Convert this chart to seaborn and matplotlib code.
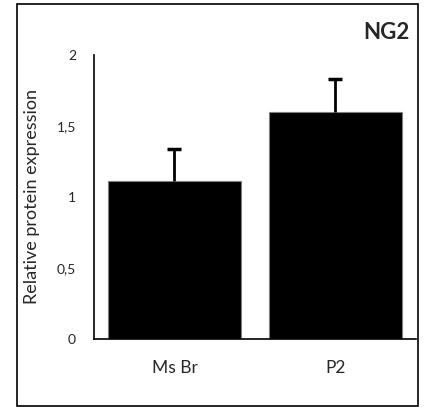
import numpy as np
import pandas as pd
import matplotlib
matplotlib.use("Agg")
import matplotlib.pyplot as plt
from matplotlib.ticker import FuncFormatter
from matplotlib.patches import Rectangle
import seaborn as sns

groups = ["Ms Br", "P2"]
expression = [1.115, 1.595]
sem = [0.22, 0.235]

sns.set_style("white")
plt.rcParams["font.family"] = ["Lato", "DejaVu Sans"]

df = pd.DataFrame({"group": groups, "value": expression})

fig = plt.figure(figsize=(4.24, 4.07), dpi=100)
ax = fig.add_axes([0.2217, 0.167, 0.759, 0.698])

sns.barplot(data=df, x="group", y="value", color="black", width=0.826,
            edgecolor="#7f7f7f", linewidth=0.8, ax=ax, errorbar=None)
for p in ax.patches:
    p.set_facecolor("black")

# upper error only
eb = ax.errorbar(np.arange(len(groups)), expression,
                 yerr=[np.zeros(len(sem)), sem], fmt="none", ecolor="black",
                 elinewidth=2, capsize=5, capthick=2.5, zorder=5)
eb[1][0].set_visible(False)

ax.set_xlim(-0.5, 1.5)
ax.set_ylim(0, 2)
ax.set_yticks([0, 0.5, 1, 1.5, 2])
ax.yaxis.set_major_formatter(FuncFormatter(lambda v, _: f"{v:g}".replace(".", ",")))
ax.tick_params(axis="y", length=0, pad=13, labelsize=10)
ax.tick_params(axis="x", length=0, pad=15, labelsize=12.5)

for s in ["top", "right"]:
    ax.spines[s].set_visible(False)
for s in ["left", "bottom"]:
    ax.spines[s].set_color("black")
    ax.spines[s].set_linewidth(1.2)

ax.set_xlabel("")
ax.set_ylabel("Relative protein expression", fontsize=13, labelpad=12)

fig.text(0.965, 0.92, "NG2", ha="right", va="center", fontsize=16, fontweight="bold")

fig.patches.append(Rectangle((0.040, 0.003), 0.946, 0.986, transform=fig.transFigure,
                             fill=False, edgecolor="black", linewidth=1.2))

fig.savefig("out.png", dpi=100)
